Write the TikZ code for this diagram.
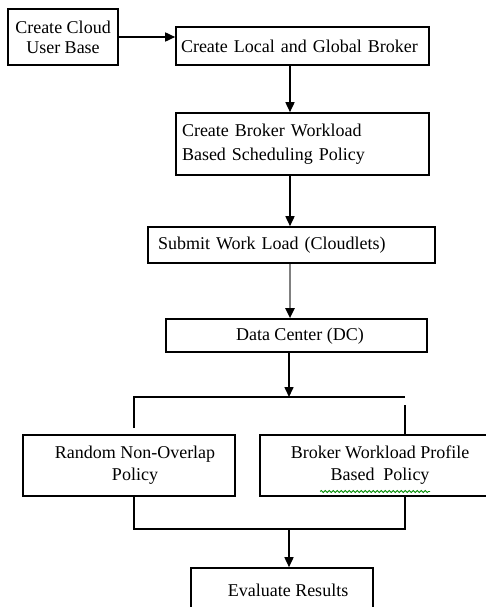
\documentclass[tikz,border=0pt]{standalone}
\usepackage{fontspec}
\setmainfont{Liberation Serif}
\usetikzlibrary{arrows.meta,calc,decorations.pathmorphing}
\begin{document}
\begin{tikzpicture}[x=1pt, y=-1pt, line width=1.6pt,
	box/.style={draw, inner sep=0pt, align=center, font=\fontsize{18}{22}\selectfont},
	flow/.style={-{Triangle[width=9pt,length=10pt,color=black]}}]
	\path[use as bounding box, fill=white] (0,0) rectangle (486,607);
	\clip (0,0) rectangle (486,607);
	\node[box, minimum width=110pt, minimum height=56pt, font=\fontsize{18}{20}\selectfont] (user) at (63,37) {Create Cloud\\User Base};
	\node[box, text width=243pt, inner xsep=5pt, minimum height=38pt, align=left] (broker) at (302.5,46) {Create Local and Global Broker};
	\node[box, text width=241pt, inner xsep=6pt, minimum height=62pt, align=left, font=\fontsize{18}{24}\selectfont] (policy) at (302.5,144) {Create Broker Workload\\Based Scheduling Policy};
	\node[box, text width=267pt, inner xsep=10pt, minimum height=36pt, align=left] (submit) at (291.5,245) {Submit Work Load (Cloudlets)};
	\node[box, minimum width=261pt, minimum height=33pt, text depth=2pt] (dc) at (296.5,335.5) {\hspace{7pt}Data Center (DC)};
	\node[box, minimum width=212pt, minimum height=61pt] (rnd) at (129,465.5) {\hspace{12pt}Random Non-Overlap\\\hspace{12pt}Policy};
	\node[box, minimum width=240pt, minimum height=61pt] (bwp) at (380,465.5) {Broker Workload Profile\\Based\ \ Policy};
	\node[box, minimum width=182pt, minimum height=44pt] (eval) at (282,590) {\hspace{12pt}Evaluate Results};
	% junction points
	\coordinate (ax) at (290,0); \coordinate (bx) at (289,0);
	\coordinate (sl) at (134,397); \coordinate (sr) at (405,397);
	\coordinate (sl2) at (134,428); \coordinate (sr2) at (405,405);
	\coordinate (jl) at (134,529); \coordinate (jr) at (405,529);
	\draw[flow] (user.east) -- (user.east -| broker.west);
	\draw[flow] (broker.south -| ax) -- (policy.north -| ax);
	\draw[flow] (policy.south -| ax) -- (submit.north -| ax);
	\draw[flow, draw=gray, line width=2.2pt] (submit.south -| ax) -- (dc.north -| ax);
	\draw[flow] (dc.south -| bx) -- (sl -| bx);
	\draw (sl2) -- (sl) -- (sr);
	\draw (sr2) -- (bwp.north -| sr2);
	\draw (rnd.south -| jl) -- (jl) -- (jr) -- (bwp.south -| jr);
	\draw[flow] (jl -| bx) -- (eval.north -| bx);
	\draw[green!55!black, line width=0.8pt, decorate, decoration={snake, amplitude=1pt, segment length=4pt}] ($(bwp.center)+(-60,26)$) -- ($(bwp.center)+(50,26)$);
\end{tikzpicture}
\end{document}
